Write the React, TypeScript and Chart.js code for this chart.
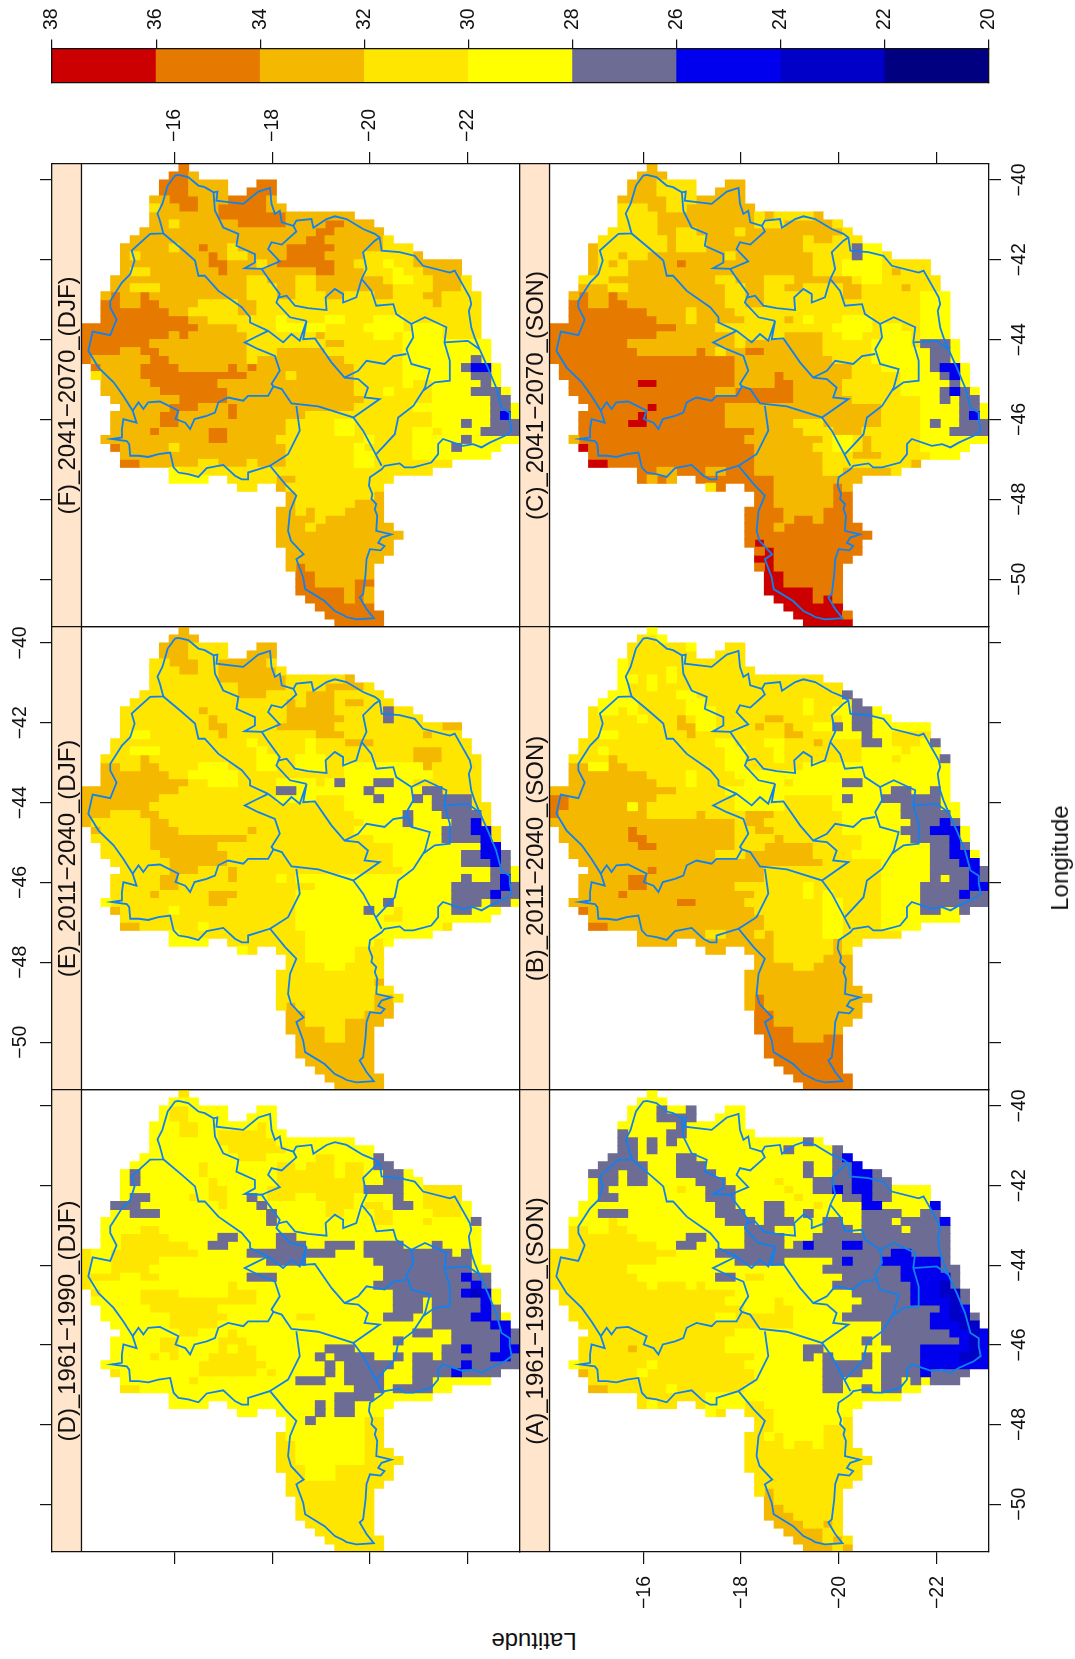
import React, { useEffect, useRef } from "react";
import { Chart, registerables } from "chart.js";

Chart.register(...registerables);

const latTicks = [-16, -18, -20, -22];
const lonTicks = [-50, -48, -46, -44, -42, -40];
const legendTicks = [38, 36, 34, 32, 30, 28, 26, 24, 22, 20];

// temperature classes: [low, high, colour]
const levelCodes = ["k", "n", "b", "s", "y", "d", "g", "o", "r"];
const levelLows = [20, 22, 24, 26, 28, 30, 32, 34, 36];
const levelColours = ["#000080", "#0000C8", "#0000EE", "#6C6C94", "#FFFF00", "#FFE600", "#F5B800", "#E67A00", "#CC0000"];

// cells with data, one entry per 0.2 degree longitude row from -39.6 westwards, in 0.2 degree latitude columns
const maskRows = ["10-11","9-12","8-15,18-20","8-15,17-20","7-20","7-21","7-28","7-30","6-31","5-32","4-34","4-35","4-39","4-39","3-40","3-40","2-41","2-41","2-41","2-41","0-41","0-41","0-42","0-42","0-42","1-43","1-43","2-43","2-44","3-44","4-45","3-45","3-45","3-45","2-45","3-43","4-42","4-38","9-36","9-13,15-32","16-18,20-31","21-31","21-31","20-31","20-31","20-32","20-33","20-32","21-32","21-31","21-30","22-30","22-30","22-30","23-30","24-30","25-31","26-31"];

const panelA = ["0y","0y","0y 11s 12y 14s 15y","0y 11s 15y","0y 13s 14y","0s 8y 12s 14y","0s 9y 10s 11y 12s 13y 26s 27y","0s 9y 10s 11y 24s 25y 29s","0s 9y 13s 15y 29s 30b","0s 10y 13s 16y 26s 27y 29s 31b","0s 7y 8s 10y 13s 17y 26s 27y 29s 31b 33s","0y 5s 7y 8s 10y 15s 18y 23d 24y 27s 31b 33s","0y 5s 6y 13d 14y 16s 19y 24d 25y 27s 29b 30s 31b 33s 35y","0y 5s 7y 16s 19y 25d 26y 30s 32b 33s 35y","0y 17s 19y 22s 24y 27d 28y 32b 34y 39b","0y 5s 8y 17s 20y 22s 24y 26s 27y 32s 36y 38s","0y 6d 7y 18s 21y 22s 25y 28s 30y 32s 35y 36s 40b","0d 4y 6d 8y 20s 23y 28s 31y 32s 36y 37s","0d 9y 14s 16y 20s 24y 27s","0d 11y 13s 15y 20s 24y 25s 26b 27s 30b 32s","0d 13y 17s 35b 37s","0d 11y 19s 24y 29s 30b 31s 34b 40s","0d 8y 28s 36b 40s","0d 9y 17s 19y 20d 22y 30s 36b 41s","0d 10y 11d 14y 15d 16y 29s 37b 40n 41s","0d 19y 31s 37b 40n 42s","0d 18y 23d 24y 32s 37b 41n 42s","0d 20y 23d 25y 31s 40b 41n 42b","0d 17y 19d 25y 30s 39b 41n 43s","0d 25y 34s 39b 42n","0d 19y 34s 41b 43n 44b","0d 18y 32s 33y 34s 42b 43n 44b","0d 8g 9d 18y 26s 28y 35s 38b 43n 44b","0d 21y 26s 27y 28s 29y 32s 33y 34s 38b 42n 44b","0y 3d 10y 11d 20y 28s 33y 34s 38b","0g 4d 9y 10d 21y 28s 32y 34s 38b 39s","0d 21y 28s 30y 34s 36y 37s 38y 39s","0g 6d 12y 13d 20y 28s 30y 32s 33y 34s 36y","0d 16y","0d 10y 11d 16y 20d 22y","0y 17d 20d 23y","0d 23y 30d","0d 23y 28d","0d 22y 23d 24y 28d","0d 24y 25d 27y 28d","0d","0d","0d","0d","0d","0d 22g 23d","0d 22g 23d","0d 22g 24d","0d 22g 25d","0g 26d 28g 29d","0g 28d","0g 28d 29g 30d","0g 29d 30g"];

const panelB = ["0y","0d 11y","0d 14y 15d","0d","0y 8d","0y 8d 12y 13d","0y 9d 10y 11d 12y 13d","0y 8d 10y 11d","0y 8d 13y 15d 30s","0y 9d 14y 16d 26y 27d 30y 31s","0d 5y 7d 8y 9d 14y 17d 26y 27d 29y 31s 33y","0d 9y 10d 13g 14d 15y 17d 22g 24d 30y 31s 33y","0d 13g 15y 17d 21g 22d 24g 25d 27y 29s 30y 31s 33y","0d 5y 7d 14g 15d 24g 26d 29y 32s 33y 35d","0d 17y 19d 22y 24d 27g 28d 32s 34y 35d 38y 39s","0d 5y 6d 18y 20d 23y 24d 32y 36d 37y","0d 6g 7d 18y 20d 23y 24d 32y 35d 36y 40s","0g 4y 6g 8d 18y 20d 26y","0g 10d 14y 15d 19y","0g 11d 14y 15d 20y 24d 25y 30s 32y","0g 13d 18y 35s 37y 39s 40y","0o 2g 11d 19y 24d 29y 30s 31y 34s 40y","0o 2g 8y 9g 10d 19y 24d 29y 36s 40y","0o 1g 10d 15g 16d 20g 23d 30y 36s 41y","0g 19d 20g 22d 30y 37s 40b 41s","0g 8o 9g 19d 21g 23d 30y 36s 39b 42y","0g 8o 10g 19d 23g 24d 32y 37s 41b 42y","0g 9o 11g 19d 22g 27d 32y 39s 41b 42s","0g 17d 20g 27d 31y 39s 41b 43y","0g 28d 34y 39s 42b","0g 10o 11g 22d 34y 39s 43b 44s","0g 8o 10g 22d 34y 39s 40y 41s 43b 44s","0g 8o 10g 19d 26y 27d 34y 38s 43b","0g 7o 8g 21d 26y 27d 28y 29d 34y 38s 42b 43s","0g 13o 15g 20d 28y 30d 34y 38s","0o 4g 21d 28y 30d 34y 38s 40y 42s","0g 22d 28y 30d 34y","0o 6g 22d 28y 30d 34y","0g 16d 18g 21d 22g 23d 28y 30d","0g 23d 29g 30d","0g 23d 29g 30d","0g 23d 28g","0g 25d 27g","0g","0g","0g","0g 21o 22g","0g 21o 22g","0o 23g","0o 23g","0o 25g","0o 25g 28o","0o","0o","0o","0o","0o","0o"];

const panelC = ["0g","0g","0g 11d 18g","0g 11d 17g","0g 12d 15g","0d 10g 12d 14g","0d 11g 21d 22g 23d 27g","0d 11g 21d 24g 29d","0d 11g 13d 15g 19d 20g 30d","0d 12g 13d 16g 26d 27g 29d","0g 5d 12g 13d 16g 26d 31s 32y","0g 5d 7g 8d 10g 18d 19g 27d 31s 32y 34d","0g 5d 6g 7d 8g 13o 14g 27d 30y 34d","0g 5d 8g 27d 30y 34d 35g 36d","0d 6g 17d 19g 22d 25g 31d 32y 34d","0g 6d 8g 18d 20g 22d 24g 26d 30g 32d 36g 37d","0g 3o 4g 6o 7g 18d 20g 22d 30g 32d 38y","0o 4g 6o 8g 18d 20g 22d 38y","0o 10g 14d 15g 19d 38y","0o 11g 14d 15g 20d 24g 25d 26y 27d 30y 33d 38y","0o 13g 17d 29y 33d 34y 36d 38y","0o 11g 19d 24g 28d 30y 32d 34y 37d 38y","0o 8g 19d 20g 28d 33y 37d 38s 41y","0o 9g 15o 16g 17d 18g 20o 22g 28d 33y 39s 41y","0o 19g 29d 33y 39s 41y","0o 19g 31d 34y 39s 40b 42y","0o 19g 23o 24g 31d 36y 40s 41b 42y","0o 9r 11o 19g 23o 25g 30d 36y 41s 42y","0o 17g 19o 25g 30d 36y 40s 41b 42s 43y","0o 25g 31d 38y 40s 41y 42s","0o 10r 11o 18g 34d 38y 42s 44y","0o 9r 10o 18g 34d 38y 42s 43b 44y","0o 8r 10o 18g 25d 28g 34d 38y 39s 40y 42s","0o 21g 26d 29g 32d 38y 41s","0g 3o 20g 28d 29y 31d 32g 33d 38y","0r 4o 21g 27d 29y 31d 32g 33d 38y","0o 21g 28d 31g 34d 39y","0r 6o 21g 28d 37g","0o 11g 13o 16g 18o 21g 28d 30g 35d","0o 10g 11o 12g 15o 23g","0d 17o 23g 29o 30g","0o 23g 29o","0o 23g 29o","0o 24g 28o","0o 24g 25o 27g 28o","0o 23g 24o","0o","0o 21r 22o","0o 22r 23o","0r 23o","0o 22r 23o","0r 24o","0r 24o","0r 27o","0r 27o 28r 29o","0r","0r 30o","0r"];

const panelD = ["0d","0y","0y 9d 11y","0y 9d 11y","0y 10d 12y 18d 19y","0y 10d 12y 14d 19y","0y 14d 20y","0y 15d 21y","0y 16d 19y 24d 26y 30s","0y 12d 13y 20d 22y 23d 26y 27d 29y 30s 32y","0y 5s 6y 12d 13y 20d 26y 27d 29y 31s 33y","0y 5s 6y 13d 14y 20d 29y 31s 33y","0y 13d 15y 19d 29s 33y 35d","0y 5s 7y 11d 12y 13d 15y 17s 18y 19d 22y 24d 28y 32s 33y 35d","0s 6y 14d 15y 18s 19y 25d 28y 29d 31y 32s 34y 35d 39y","0y 5s 8y 19s 20y 25d 27y 30d 32y 36d 39y","0y 19s 20y 30d 32y 35d 36y 40s","0y 6d 8y","0y 4d 9y 14s 16y 20s 22y","0y 4d 11y 13s 15y 20s 23y 25s 28y 29s 33y 36s 37y","0d 1y 3d 12y 17s 26y 29s 38y 39s 40y","0d 1y 3d 8y 19s 23y 30s 40y","0d 1y 3d 7y 31s 40y","0d 4y 6d 8y 17s 20y 31s 39b 40s","0d 1y 15d 16y 30s 40b 41s","0d 2y 6d 10y 15d 18y 32s 39b 40n 41b 42y","0y 6d 18y 32s 35y 36s 41b 42y","0y 7d 14y 32s 35y 36s 41b 42s","0y 9d 15y 22d 24y 31s 34y 36s 40b 42s 43y","0y 9d 14y 36s 42b","0y 10d 12y 15d 16y 34s 36y 38s 43b 44s","0y 8d 10y 14d 17y 32s 33y 38s 43b 44s","0y 8d 10y 14d 15y 16d 18y 25s 28y 37s 39b 40s 43b","0y 7d 8y 9d 10y 13d 18y 24s 25y 26s 30y 32s 33y 34s 36y 37s 42b 44s","0y 12d 19y 25s 26y 27s 32y 34s 39b 40s","0d 4y 12d 18y 19d 20y 25s 26y 27s 31y 34s 38b 39s","0y 11d 12y 22s 25y 27s 31y 34s 36y","0d 6y 28s 31y 32s 36y","0y 26s 30y","0y 24s 25y 26s 28y","0y 24s 25y 26s 28y","0y 23s 24y 29d","0y 29d","0d 21y 29d","0d 22y 29d","0d 22y 29d","0d 22y 29d","0d 23y 26d","0d 23y 26d","0d","0d","0d","0d","0d","0d","0d","0d","0d"];

const panelE = ["0g","0g","0g 11d 18g","0g 11d 17g","0d 9g 12d 14g 19d","0d 10g 12d 14g 20d","0d 14g 21d 27g","0d 16g 21d 25g 29d","0d 16g 19d 23g 26d","0d 21g 22d 23g 26d 27g 29d","0d 12g 13d 21g 26d 31s 32d","0d 13g 14d 21g 27d 31s 32d","0d 13g 15d 20g 26d 37g","0d 5y 7d 14g 15d 24g 27d 35g 36d","0d 17y 18d 23y 24d 27g 30d","0d 5y 8d 18y 19d 23y 24d 34g 37d","0d 6g 7d 18y 20d 22y 25d 34g 37d","0g 4d 6g 8d 12y 15d 18y 20d 22y 25d 27y 35g 36d","0g 9d 11y 16d 27y 36d","0g 11d 13y 16d 20y 24d 25y 26s 27y 30s 32y 34d","0g 10d 20s 22y 29s 30y 35s 37d","0g 8d 20y 24d 27y 30s 31y 34s 35y 36s 40d","0g 7d 27y 36s 40d","0g 3d 6g 8d 28y 33s 34y 37s 41d","0g 1d 7g 9d 29y 33s 34y 38s 40b 41d","0g 2d 7g 10d 17g 18d 28y 37s 40b 42d","0d 7g 17d 30y 37s 41b 42d","0d 7g 14d 32y 41b 43d","0d 8g 15d 32y 39s 41b 43s","0d 9g 15d 32y 39s 42b 43s","0d 9g 12d 15g 16d 33y 42s 44y","0d 8g 10d 15g 16d 20y 21d 22y 39s 40y 42s 43b 44y","0d 8g 10d 23d 24y 38s 43b 44s","0d 7g 8d 13g 16d 22y 38s 42b 43s","0y 3d 13g 15d 22y 31s 32y 38s 41y 42s 44y","0g 4d 9y 10d 22y 29s 30y 32d 33y 38s 40y","0d 22y 31d 33y","0g 6d 12y 13d 22y 37d","0y 10d 23y","0y 15d 23y 30d 31y","0y 17d 23y 28d","0d 23y 28d","0d 25y 27d","0d","0d 30g","0d","0d 30g 32d","0d 21g 22d 30g","0g 23d 29g","0g 23d 27g","0g 25d 27g","0g 25d 27g","0g","0g","0g","0g","0g","0g"];

const panelF = ["0o","0o 11g","0o 11g 18o","0o 11g 17o","0g 9o 12g 15o 19g","0d 8g 10o 12g 14o 19g","0g 14o 21g","0g 9d 10g 16o 21g 25o 27g","0g 24o 26g","0g 23o 25g 31d","0g 9d 10g 12o 13g 15d 16g 21o 26g 31d","0g 5d 6g 13o 14g 15d 17g 21o 25g 29d 34g","0g 13o 15g 18d 19g 20o 26g 28d 31y 32d 34g","0g 5d 7g 14o 15g 24o 26g 29d 32y 33d 35g","0g 17d 19g 22d 24g 31d 32y 34d 36g 39d","0g 5d 8g 17d 20g 22d 24g 32d 36g 39d","0g 3o 4g 6o 7g 17d 20g 22d 25g 27d 30g 32d 35g 37d","0o 4g 6o 8g 12d 16g 18d 36g 37d","0o 9g 11d 16g 18d","0o 11g 13d 20y 21d 25y 27d 30y 33d","0o 12g 16d 20y 23y 25d 29y 33d 34y 37d","0o 9g 10o 11g 17d 24g 25d 30y 32d 33y 37d","0o 7g 17d 25g 27d 33y","0o 4g 6o 8g 17d 20g 25d 33y","0o 1g 7o 9g 17d 18g 27d 33y 40s 41y","0o 2g 6o 10g 15o 16g 17o 18g 28d 33y 39s 40b 42y","0d 2g 6o 17g 21d 22g 28d 33y 40s 42y","0g 7o 14g 28d 33y 34d 36y 41s 42y","0g 8o 15g 28d 31y 32d 36y 40s 43y","0g 10o 15g 29d 36y 42s","0g 9o 12g 15o 16g 28d 34y 42s 44y","0g 8o 10g 15o 16g 23d 36y 42s 43b 44y","0g 8o 10g 21d 26y 28d 36y 39s 40y 42s","0g 7o 8g 13o 15g 21d 26y 28d 34y 36d 37y 41s","0g 13o 15g 20d 29y 30d 34y 39s 40y","0o 4g 9d 10g 21d 28y 29d 34y 38s 39y","0g 21d 28y 30d 34y","0o 6g 12d 14g 17d 18g 21d 28y 30d 37d","0y 10d","0y 15d 20g 22d","0d 20g 21d","0g 22d 30g","0g 22d 28g","0g 22d 23g 24d 27g","0g 24d 25g","0g 23d 24g","0g","0g","0g","0g","0g 22o 23g","0o 24g","0o 24g 28o","0o 27g 28o 29g","0o 27g 28o 29g","0o","0o","0o"];

// basin boundaries as flat lat, lon pairs
const outerBasin = [-16.07,-39.87,-16.27,-39.93,-16.48,-40.14,-16.61,-40.18,-16.79,-40.31,-16.87,-40.29,-16.85,-40.52,-17.4,-40.6,-17.71,-40.29,-17.95,-40.2,-17.98,-40.6,-18.05,-40.85,-18.15,-40.77,-18.19,-41.06,-18.43,-41.15,-18.49,-41.02,-18.8,-40.98,-18.84,-41.2,-19.11,-40.98,-19.28,-40.91,-19.52,-40.98,-19.86,-41.23,-20.1,-41.35,-20.2,-41.44,-20.24,-41.77,-20.61,-41.81,-20.92,-41.9,-21.09,-42.15,-21.64,-42.32,-21.74,-42.27,-22.05,-42.94,-22.08,-43.11,-22.03,-43.28,-22.08,-43.7,-22.15,-43.95,-22.25,-44.24,-22.42,-44.7,-22.59,-45.2,-22.7,-45.7,-22.87,-45.83,-22.87,-46.03,-22.91,-46.28,-22.77,-46.41,-22.46,-46.58,-22.29,-46.7,-22.12,-46.62,-21.91,-46.66,-21.5,-46.49,-21.4,-46.62,-21.4,-46.87,-21.26,-47.08,-20.89,-47.2,-20.71,-47.2,-20.61,-47.1,-20.3,-47.16,-20.24,-47.25,-20,-47.45,-19.98,-47.66,-20.05,-47.87,-20.03,-47.99,-20.13,-48.12,-20.1,-48.25,-20.15,-48.41,-20.13,-48.79,-20.44,-48.88,-20.24,-48.96,-20.17,-49.09,-20.3,-49.17,-20.22,-49.28,-20,-49.25,-19.93,-49.5,-19.91,-49.88,-19.86,-50.38,-19.79,-50.46,-19.93,-50.75,-20.08,-50.98,-19.72,-51.01,-19.52,-50.95,-19.45,-50.9,-19.28,-50.8,-19.07,-50.55,-18.67,-50.25,-18.63,-49.96,-18.49,-49.5,-18.64,-49.38,-18.38,-49.04,-18.32,-48.79,-18.36,-48.29,-18.49,-47.91,-18.26,-47.62,-17.95,-47.16,-17.5,-47.33,-17.5,-47.5,-17.37,-47.5,-17.23,-47.41,-16.99,-47.14,-16.65,-47.22,-16.48,-47.44,-16.27,-47.37,-16.07,-47.33,-15.97,-47.2,-15.9,-46.83,-15.66,-46.87,-15.45,-46.94,-15.25,-46.91,-15.08,-46.91,-15.06,-46.62,-15.01,-46.54,-14.7,-46.49,-14.91,-46.45,-14.91,-46.24,-14.94,-45.99,-15.21,-46.08,-15.13,-45.78,-14.94,-45.41,-14.74,-45.07,-14.43,-44.7,-14.22,-44.28,-14.31,-43.8,-14.67,-43.89,-14.8,-43.5,-14.67,-43.19,-14.67,-43.03,-14.91,-42.57,-15.08,-42.36,-15.17,-42.02,-15.11,-41.77,-15.49,-41.35,-15.76,-41.34,-15.69,-41.02,-15.64,-40.84,-15.74,-40.6,-15.8,-40.35,-15.85,-40.14,-16,-39.89,-16.07,-39.87];
const lineA = [-15.76,-41.34,-16.14,-41.73,-16.41,-42.02,-16.48,-42.4,-16.61,-42.4,-16.89,-42.78,-17.37,-43.19,-17.54,-43.44,-17.54,-43.57,-17.91,-43.78,-18.22,-44.07,-18.39,-43.86,-18.56,-44.03,-18.7,-43.53,-18.63,-43.99,-18.87,-43.97,-19.21,-44.57,-19.48,-44.95,-19.76,-44.99,-19.96,-45.2,-19.89,-45.45,-20.2,-45.49,-19.66,-45.95,-18.94,-45.67,-18.39,-45.6,-18.19,-45.24,-18.02,-45.17,-17.91,-45.41,-17.5,-45.41,-17.4,-45.53,-17.09,-45.45,-16.89,-45.57,-16.82,-45.83,-16.65,-45.91,-16.4,-45.99,-16.31,-46.24,-16.21,-46.08,-16.01,-45.99,-16.07,-45.78,-15.69,-45.55,-15.45,-45.57,-15.35,-45.74,-15.25,-45.57,-15.13,-45.78];
const lineB = [-17.91,-43.78,-17.64,-43.94,-17.43,-44.07,-17.71,-44.24,-18.05,-44.41,-18.15,-44.78,-17.98,-45.11,-18.02,-45.17];
const lineC = [-16.79,-40.31,-16.82,-40.77,-16.99,-41.19,-17.3,-41.35,-17.26,-41.65,-17.64,-41.86,-17.64,-42.07,-17.43,-42.21,-17.78,-42.23,-17.91,-42.46,-18.15,-42.86,-18.08,-43.07,-18.36,-43.44,-18.7,-43.53];
const lineD = [-17.78,-42.23,-18.15,-42.04,-17.91,-41.73,-17.98,-41.56,-18.19,-41.62,-18.49,-41.29,-18.43,-41.15];
const lineE = [-18.12,-42.95,-18.29,-42.9,-18.46,-43.15,-18.73,-43.21,-19.11,-43.26,-19.09,-42.94,-19.28,-42.73,-19.45,-42.86,-19.45,-43.07,-19.72,-42.94,-19.83,-42.48,-19.93,-42.23,-19.86,-41.81,-20.1,-41.52,-20.2,-41.44];
const lineF = [-19.83,-42.48,-20.03,-42.78,-20.13,-43.15,-20.48,-43.11,-20.54,-43.36,-20.85,-43.61,-21.13,-43.44,-21.57,-43.69,-21.53,-44.07,-21.64,-44.53,-21.64,-45.03,-21.33,-45.07,-21.09,-45.28];
const lineF2 = [-21.53,-44.07,-22.01,-44.03,-22.25,-44.24];
const lineG = [-20.85,-43.61,-20.89,-43.94,-20.75,-44.24,-20.85,-44.61,-21.23,-44.74,-21.13,-45.2,-21.09,-45.28];
const lineH = [-19.48,-44.95,-19.76,-44.78,-19.93,-44.53,-20.3,-44.61,-20.48,-44.41,-20.75,-44.36];
const lineI = [-19.66,-45.95,-19.86,-46.28,-20.1,-46.83,-20.24,-47.16];
const lineJ = [-20.13,-46.87,-20.51,-46.37,-20.58,-45.95,-20.89,-45.66,-21.09,-45.28];
const lineK = [-18.49,-45.66,-18.56,-46.28,-18.32,-46.87,-17.95,-47.16];
const basinLines = [outerBasin, lineA, lineB, lineC, lineD, lineE, lineF, lineF2, lineG, lineH, lineI, lineJ, lineK];

const LAT_RIGHT = -23.08;
const LAT_LEFT = -13.475;
const LAT_FIRST = -14.08;
const LON_TOP = -39.6;
const LON_BOTTOM = -51.2;
const MARGIN = 60;
const FONT = '"Liberation Sans", Arial, sans-serif';
const TICK_FONT = { family: FONT, size: 19.5 };
const INK = "#111111";
const RIVER = "#0F82F0";

const minusLabel = (v: number) => String(v).replace("-", "\u2212");

function cellDatasets(rows: string[]) {
  const byCode: Record<string, any[]> = {};
  levelCodes.forEach((c) => (byCode[c] = []));
  rows.forEach((row, j) => {
    const lon = LON_TOP - 0.2 * (j + 0.5);
    const tokens = [...row.matchAll(/(\d+)([a-z])/g)].map((m) => ({ start: Number(m[1]), code: m[2] }));
    maskRows[j].split(",").forEach((seg) => {
      const [a, b] = seg.split("-").map(Number);
      tokens.forEach((t, i) => {
        const end = i + 1 < tokens.length ? tokens[i + 1].start : 45;
        const s = Math.max(a, t.start);
        const e = Math.min(b, end);
        if (e > s) byCode[t.code].push({ x: [LAT_FIRST - 0.2 * e, LAT_FIRST - 0.2 * s], y: lon });
      });
    });
  });
  return levelCodes.map((c, i) => ({
    type: "bar",
    label: String(levelLows[i]),
    data: byCode[c],
    backgroundColor: levelColours[i],
    borderWidth: 0,
    inflateAmount: 0.5,
    grouped: false,
    barPercentage: 1,
    categoryPercentage: 1,
    indexAxis: "y",
    xAxisID: "x",
    yAxisID: "y",
    order: 2,
  }));
}

function lineDatasets() {
  return basinLines.map((flat) => {
    const pts: { x: number; y: number }[] = [];
    for (let i = 0; i < flat.length; i += 2) pts.push({ x: flat[i], y: flat[i + 1] });
    return {
      type: "scatter",
      data: pts,
      showLine: true,
      borderColor: RIVER,
      borderWidth: 1.8,
      pointRadius: 0,
      tension: 0,
      indexAxis: "x",
      xAxisID: "x",
      yAxisID: "y",
      order: 0,
    };
  });
}

interface PanelDef {
  title: string;
  rows: string[];
  left: number;
  top: number;
  width: number;
  height: number;
  tickTop?: boolean;
  labelTop?: boolean;
  tickBottom?: boolean;
  labelBottom?: boolean;
  tickLeft?: boolean;
  labelLeft?: boolean;
  tickRight?: boolean;
  labelRight?: boolean;
}

const COL_L = { left: 52, width: 468 };
const COL_R = { left: 520, width: 469 };
const ROW_T = { top: 164, height: 463 };
const ROW_M = { top: 627, height: 463 };
const ROW_B = { top: 1090, height: 462 };

const panels: PanelDef[] = [
  { title: "(F)_2041\u22122070_(DJF)", rows: panelF, ...COL_L, ...ROW_T, tickTop: true, labelTop: true, tickLeft: true },
  { title: "(C)_2041\u22122070_(SON)", rows: panelC, ...COL_R, ...ROW_T, tickTop: true, tickRight: true, labelRight: true },
  { title: "(E)_2011\u22122040_(DJF)", rows: panelE, ...COL_L, ...ROW_M, tickLeft: true, labelLeft: true },
  { title: "(B)_2011\u22122040_(SON)", rows: panelB, ...COL_R, ...ROW_M, tickRight: true },
  { title: "(D)_1961\u22121990_(DJF)", rows: panelD, ...COL_L, ...ROW_B, tickBottom: true, tickLeft: true },
  { title: "(A)_1961\u22121990_(SON)", rows: panelA, ...COL_R, ...ROW_B, tickBottom: true, labelBottom: true, tickRight: true, labelRight: true },
];

function axis(
  position: string,
  axisName: string,
  min: number,
  max: number,
  values: number[],
  showTicks: boolean,
  showLabels: boolean,
  padding: number,
  length = 12,
  reverse = false,
  size = MARGIN,
) {
  const horizontal = position === "top" || position === "bottom";
  return {
    type: "linear",
    axis: axisName,
    position,
    min,
    max,
    reverse,
    offset: false,
    afterBuildTicks: (s: any) => {
      s.ticks = showTicks ? values.map((value) => ({ value })) : [];
    },
    afterFit: (s: any) => {
      if (horizontal) s.height = size;
      else s.width = size;
    },
    border: { display: true, color: INK, width: 1.3, z: 2 },
    grid: {
      display: true,
      offset: false,
      drawOnChartArea: false,
      drawTicks: showTicks,
      tickLength: length,
      color: INK,
      tickColor: INK,
      tickWidth: 1.2,
      lineWidth: 1.2,
    },
    ticks: {
      display: showLabels,
      autoSkip: false,
      minRotation: 90,
      maxRotation: 90,
      crossAlign: horizontal ? "near" : "center",
      padding,
      labelOffset: position === "top" ? 23.4 : position === "bottom" ? 1 : 0,
      color: INK,
      font: TICK_FONT,
      callback: (v: number) => minusLabel(v),
    },
  };
}

const stripPlugin = (title: string) => ({
  id: "strip",
  beforeDatasetsDraw(chart: any) {
    const { ctx, chartArea: a, scales } = chart;
    const right = scales.x.getPixelForValue(LAT_FIRST);
    ctx.save();
    ctx.fillStyle = "#FFE5CC";
    ctx.fillRect(a.left, a.top, right - a.left, a.bottom - a.top);
    ctx.restore();
  },
  afterDatasetsDraw(chart: any) {
    const { ctx, chartArea: a, scales } = chart;
    const right = scales.x.getPixelForValue(LAT_FIRST);
    ctx.save();
    ctx.beginPath();
    ctx.rect(a.left, a.top, right - a.left, a.bottom - a.top);
    ctx.clip();
    ctx.translate(a.left + 23, (a.top + a.bottom) / 2);
    ctx.rotate(-Math.PI / 2);
    ctx.font = `24px ${FONT}`;
    ctx.fillStyle = INK;
    ctx.textAlign = "center";
    ctx.textBaseline = "alphabetic";
    ctx.fillText(title, 0, 0);
    ctx.restore();
    ctx.save();
    ctx.strokeStyle = INK;
    ctx.lineWidth = 1.3;
    ctx.beginPath();
    ctx.moveTo(right, a.top);
    ctx.lineTo(right, a.bottom);
    ctx.stroke();
    ctx.restore();
  },
});

function Panel({ def }: { def: PanelDef }) {
  const ref = useRef<HTMLCanvasElement>(null);
  useEffect(() => {
    const chart = new Chart(ref.current as any, {
      type: "bar",
      data: { datasets: [...cellDatasets(def.rows), ...lineDatasets()] as any },
      plugins: [stripPlugin(def.title)],
      options: {
        animation: false,
        responsive: false,
        indexAxis: "y",
        layout: { padding: 0 },
        events: [],
        plugins: { legend: { display: false }, title: { display: false }, tooltip: { enabled: false } },
        scales: {
          x: axis("bottom", "x", LAT_RIGHT, LAT_LEFT, latTicks, !!def.tickBottom, !!def.labelBottom, 12, 12, true),
          xTop: axis("top", "x", LAT_RIGHT, LAT_LEFT, latTicks, !!def.tickTop, !!def.labelTop, 10, 12, true),
          y: axis("left", "y", LON_BOTTOM, LON_TOP, lonTicks, !!def.tickLeft, !!def.labelLeft, 2.5),
          yRight: axis("right", "y", LON_BOTTOM, LON_TOP, lonTicks, !!def.tickRight, !!def.labelRight, 2.5),
        },
      } as any,
    });
    return () => chart.destroy();
  }, [def]);
  return (
    <canvas
      ref={ref}
      width={def.width + 2 * MARGIN}
      height={def.height + 2 * MARGIN}
      style={{ position: "absolute", left: def.left - MARGIN, top: def.top - MARGIN, width: def.width + 2 * MARGIN, height: def.height + 2 * MARGIN }}
    />
  );
}

function Legend() {
  const ref = useRef<HTMLCanvasElement>(null);
  useEffect(() => {
    const data = levelLows.map((low, i) => ({
      type: "bar",
      data: [{ x: [low, low + 2], y: 0 }],
      backgroundColor: levelColours[i],
      borderWidth: 0,
      grouped: false,
      barThickness: 36,
      indexAxis: "y",
      xAxisID: "x",
      yAxisID: "y",
    }));
    const chart = new Chart(ref.current as any, {
      type: "bar",
      data: { datasets: data as any },
      options: {
        animation: false,
        responsive: false,
        indexAxis: "y",
        events: [],
        layout: { padding: { left: 52, right: 86, bottom: 7 } },
        plugins: { legend: { display: false }, title: { display: false }, tooltip: { enabled: false } },
        scales: {
          x: axis("top", "x", 20, 38, legendTicks, true, true, 9.5, 9.5, true, 49),
          xBottom: axis("bottom", "x", 20, 38, legendTicks, false, false, 0, 0, true, 0),
          y: axis("left", "y", -0.5, 0.5, [], false, false, 0, 0, false, 0),
          yRight: axis("right", "y", -0.5, 0.5, [], false, false, 0, 0, false, 0),
        },
      } as any,
    });
    return () => chart.destroy();
  }, []);
  return <canvas ref={ref} width={1075} height={90} style={{ position: "absolute", left: 0, top: 0, width: 1075, height: 90 }} />;
}

const axisTitle: React.CSSProperties = {
  position: "absolute",
  font: `24px ${FONT}`,
  color: INK,
  whiteSpace: "nowrap",
  lineHeight: "24px",
};

export default function App() {
  return (
    <div style={{ position: "absolute", left: 0, top: 0, width: 1075, height: 1659, overflow: "hidden", background: "#fff" }}>
      <Legend />
      {panels.map((p) => (
        <Panel key={p.title} def={p} />
      ))}
      <div style={{ ...axisTitle, left: 1060, top: 858, transform: "translate(-50%,-50%) rotate(-90deg)" }}>Longitude</div>
      <div style={{ ...axisTitle, left: 534, top: 1641, transform: "translate(-50%,-50%) rotate(180deg)" }}>Latitude</div>
    </div>
  );
}
